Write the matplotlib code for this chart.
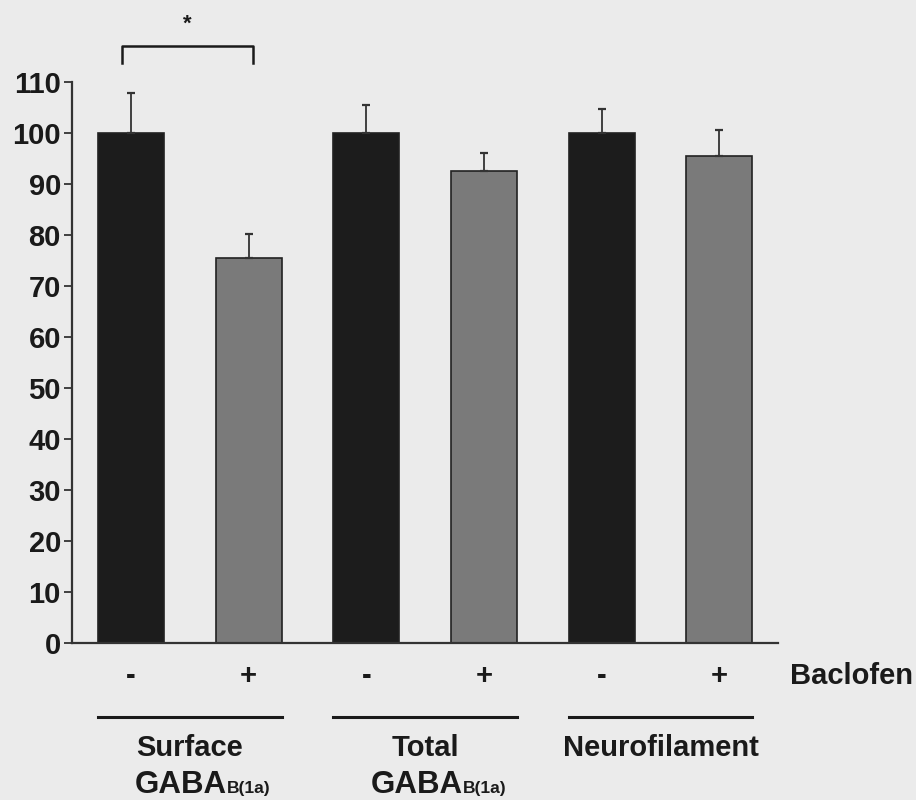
import matplotlib
matplotlib.use("Agg")
import matplotlib.pyplot as plt
from matplotlib.lines import Line2D

plt.rcParams['font.family'] = ['Liberation Sans', 'DejaVu Sans']
plt.rcParams['font.weight'] = 'bold'

# Data
conditions = ["-", "+", "-", "+", "-", "+"]
values = [100, 75.6, 100, 92.5, 100, 95.5]
errors = [7.8, 4.6, 5.5, 3.6, 4.7, 5.1]
groups = ["Surface", "Total", "Neurofilament"]
group_sub = ["GABA", "GABA", ""]
yticks = [0, 10, 20, 30, 40, 50, 60, 70, 80, 90, 100, 110]
treatment_label = "Baclofen"
sig_label = "*"

bg = "#ebebeb"
ink = "#1a1a1a"
bar_colors = ["#1c1c1c", "#7a7a7a"] * 3

fig = plt.figure(figsize=(9.16, 8.0), dpi=100, facecolor=bg)
ax = fig.add_axes([0.0786, 0.1959, 0.771, 0.7016], facecolor=bg)

x = list(range(len(values)))
ax.bar(x, values, width=0.56, color=bar_colors, edgecolor="#222222", linewidth=1.2, zorder=2)
ax.errorbar(x, values, yerr=[[0] * len(errors), errors], fmt="none", ecolor="#333333",
            elinewidth=1.3, capsize=3, capthick=1.6, zorder=3)

ax.set_xlim(-0.5, 5.5)
ax.set_ylim(0, 110)
ax.set_yticks(yticks)
ax.set_yticklabels([str(t) for t in yticks], fontsize=21, fontweight='bold', color=ink)
ax.tick_params(axis='y', length=6, width=1.3, color="#333333", pad=2)
ax.set_xticks([])
for s in ["top", "right"]:
    ax.spines[s].set_visible(False)
for s in ["left", "bottom"]:
    ax.spines[s].set_linewidth(1.6)
    ax.spines[s].set_color("#333333")

trans = ax.get_xaxis_transform()
# +/- labels
for xi, c in zip(x, conditions):
    ax.text(xi, -0.058, c, transform=trans, ha="center", va="center",
            fontsize=21, fontweight="bold", color=ink)
ax.text(5.603, -0.058, treatment_label, transform=trans, ha="left", va="center",
        fontsize=21, fontweight="bold", color=ink)

# group underlines and labels
for gi, g in enumerate(groups):
    x0, x1 = 2 * gi - 0.28, 2 * gi + 1.28
    ax.add_line(Line2D([x0, x1], [-0.131, -0.131], transform=trans, color=ink,
                       linewidth=2.2, clip_on=False))
    ax.text(2 * gi + 0.5, -0.2, g, transform=trans, ha="center", va="baseline",
            fontsize=21, fontweight="bold", color=ink)
    if group_sub[gi]:
        ax.text(2 * gi + 0.817, -0.266, group_sub[gi], transform=trans, ha="right",
                va="baseline", fontsize=22.5, fontweight="bold", color=ink)
        ax.text(2 * gi + 0.817, -0.266, "B(1a)", transform=trans, ha="left",
                va="baseline", fontsize=12.5, fontweight="bold", color=ink)

# significance bracket
ax.plot([-0.075, -0.075, 1.035, 1.035], [113.7, 117, 117, 113.7], color=ink,
        linewidth=1.8, clip_on=False)
ax.text(0.48, 121.3, sig_label, ha="center", va="center", fontsize=16,
        fontweight="bold", color=ink)

fig.savefig("out.png", dpi=100, facecolor=bg)
